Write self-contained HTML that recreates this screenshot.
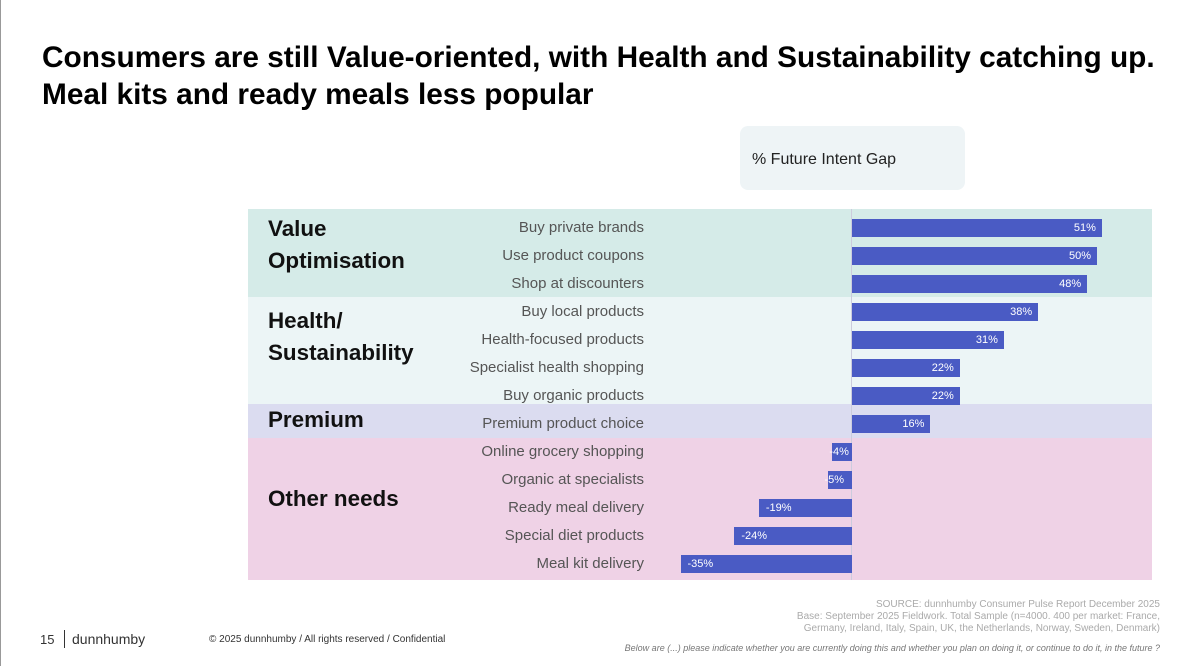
<!DOCTYPE html>
<html><head><style>
body{margin:0;width:1200px;height:666px;background:#fff;font-family:"Liberation Sans",sans-serif;position:relative;overflow:hidden}
.a{position:absolute}
.t{left:42px;top:39px;font-size:29.8px;font-weight:bold;color:#000;line-height:37px;white-space:nowrap}
.band{left:248px;width:904px}
.cat{left:268px;font-size:22.4px;font-weight:bold;color:#111;line-height:32px}
.lbl{width:396px;left:248px;text-align:right;font-size:15px;color:#555}
.bar{background:#4a5bc4;height:18px;color:#fff;font-size:11px;line-height:18px}
.src{right:40px;text-align:right;font-size:10px;color:#aaa;line-height:12px}
</style></head><body>
<div class="a" style="left:0;top:0;width:1px;height:666px;background:#999"></div>
<div class="a t">Consumers are still Value-oriented, with Health and Sustainability catching up.<br>Meal kits and ready meals less popular</div>
<div class="a" style="left:740px;top:126px;width:225px;height:64px;background:#eef4f6;border-radius:8px"></div>
<div class="a" style="left:752px;top:151px;font-size:16px;color:#222">% Future Intent Gap</div>
<div class="a band" style="top:209px;height:88px;background:#d5ebe8"></div>
<div class="a band" style="top:297px;height:107px;background:#ecf5f6"></div>
<div class="a band" style="top:404px;height:34px;background:#dbdcf0"></div>
<div class="a band" style="top:438px;height:142px;background:#efd2e6"></div>
<div class="a" style="left:851px;top:209px;width:1px;height:371px;background:#ccd"></div>
<div class="a cat" style="top:213px">Value<br>Optimisation</div>
<div class="a cat" style="top:305px">Health/<br>Sustainability</div>
<div class="a cat" style="top:404px">Premium</div>
<div class="a cat" style="top:483px">Other needs</div>
<div id="rows"></div>
<script>
var d=[["Buy private brands",51],["Use product coupons",50],["Shop at discounters",48],["Buy local products",38],["Health-focused products",31],["Specialist health shopping",22],["Buy organic products",22],["Premium product choice",16],["Online grocery shopping",-4],["Organic at specialists",-5],["Ready meal delivery",-19],["Special diet products",-24],["Meal kit delivery",-35]];
var h="";d.forEach(function(r,i){var c=228+28*i,w=Math.abs(r[1])*4.9;
h+='<div class="a lbl" style="top:'+(c-9)+'px">'+r[0]+'</div>';
if(r[1]>0)h+='<div class="a bar" style="left:852px;top:'+(c-9)+'px;width:'+w+'px;text-align:right"><span style="padding-right:6px">'+r[1]+'%</span></div>';
else h+='<div class="a bar" style="left:'+(852-w)+'px;top:'+(c-9)+'px;width:'+w+'px;overflow:visible;white-space:nowrap"><span style="position:absolute;left:'+(w<30?-3:7)+'px">'+r[1]+'%</span></div>';});
document.getElementById("rows").innerHTML=h;
</script>
<div class="a src" style="top:599px">SOURCE: dunnhumby Consumer Pulse Report December 2025<br>Base: September 2025 Fieldwork. Total Sample (n=4000. 400 per market: France,<br>Germany, Ireland, Italy, Spain, UK, the Netherlands, Norway, Sweden, Denmark)</div>
<div class="a" style="right:40px;top:643px;font-size:9px;font-style:italic;color:#777">Below are (...) please indicate whether you are currently doing this and whether you plan on doing it, or continue to do it, in the future ?</div>
<div class="a" style="left:40px;top:632px;font-size:13px;color:#333">15</div>
<div class="a" style="left:64px;top:630px;width:1px;height:18px;background:#333"></div>
<div class="a" style="left:72px;top:631px;font-size:14px;color:#333">dunnhumby</div>
<div class="a" style="left:209px;top:634px;font-size:10px;color:#333">© 2025 dunnhumby / All rights reserved / Confidential</div>
</body></html>
